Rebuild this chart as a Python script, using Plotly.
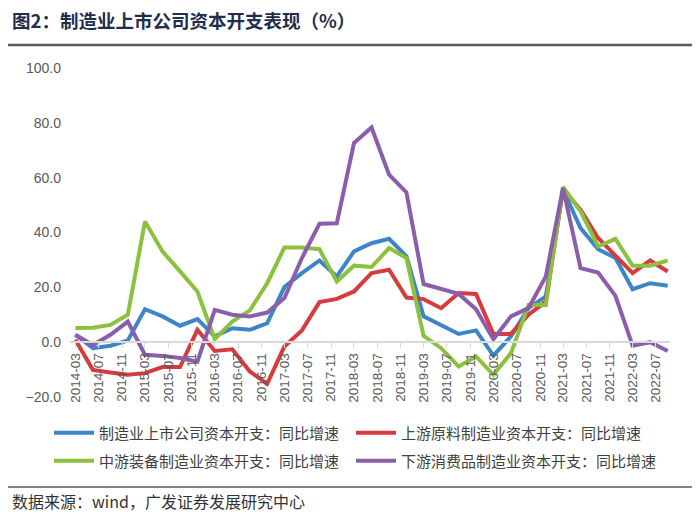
import pandas as pd
import plotly.graph_objects as go

# Quarterly observation dates (2014-03 ... 2022-09)
quarters = [d.strftime("%Y-%m-%d") for d in pd.date_range("2014-03-01", periods=35, freq="3MS")]

tick_labels = ["2014-03", "2014-07", "2014-11", "2015-03", "2015-07", "2015-11",
               "2016-03", "2016-07", "2016-11", "2017-03", "2017-07", "2017-11",
               "2018-03", "2018-07", "2018-11", "2019-03", "2019-07", "2019-11",
               "2020-03", "2020-07", "2020-11", "2021-03", "2021-07", "2021-11",
               "2022-03", "2022-07"]

total_capex = [2.7, -2.2, -1.3, 0.6, 12.0, 9.4, 6.0, 8.4, 2.1, 5.1, 4.5, 6.9,
               20.1, 25.2, 29.8, 24.0, 33.1, 36.1, 37.7, 31.3, 9.4, 6.3, 3.0, 4.3,
               -4.9, 2.1, 12.4, 16.7, 55.6, 41.6, 33.9, 30.7, 19.3, 21.5, 20.6]
upstream = [0.9, -10.1, -11.1, -11.9, -11.3, -9.1, -9.1, 4.5, -3.2, -2.6, -10.7, -15.2,
            -1.6, 4.3, 14.6, 15.8, 18.5, 25.2, 26.4, 16.3, 15.7, 12.4, 17.9, 17.6,
            3.0, 3.0, 10.0, 14.8, 55.6, 48.3, 38.0, 31.3, 25.2, 29.8, 25.8]
midstream = [5.2, 5.3, 6.3, 10.0, 44.0, 33.1, 25.8, 18.5, 1.1, 7.5, 11.6, 21.5,
             34.5, 34.5, 33.9, 22.1, 27.9, 27.4, 34.3, 30.7, 2.3, -2.2, -8.9, -5.2,
             -11.9, -4.0, 13.6, 13.6, 56.6, 47.7, 34.9, 37.7, 27.9, 27.9, 29.8]
downstream = [2.7, -1.0, 2.7, 7.5, -4.6, -5.0, -5.8, -7.1, 11.8, 10.0, 9.4, 10.8,
              16.1, 30.7, 43.2, 43.4, 72.6, 78.3, 61.1, 54.6, 21.2, 19.3, 17.6, 12.0,
              1.1, 9.4, 12.4, 24.0, 56.2, 27.0, 25.4, 16.9, -1.3, 0.0, -3.2]

series_names = ["制造业上市公司资本开支：同比增速", "上游原料制造业资本开支：同比增速",
                "中游装备制造业资本开支：同比增速", "下游消费品制造业资本开支：同比增速"]
series_values = [total_capex, upstream, midstream, downstream]
colors = ["#3D85C9", "#D63B3D", "#8CC03F", "#8A5EAD"]
legend_ids = ["legend", "legend2", "legend3", "legend4"]

# page body has an 8px margin; the figure is sized so it fits the 700x517 window
OFF = 8
W, H = 700 - OFF, 517 - OFF
ML, MR, MT, MB = 70 - OFF, 30, 68 - OFF, 120
PW, PH = W - ML - MR, H - MT - MB


def px_x(x_ref):
    return (x_ref - OFF - ML) / PW


def px_y(y_ref):
    return (H - MB - (y_ref - OFF)) / PH


fig = go.Figure()
for name, vals, col, lg in zip(series_names, series_values, colors, legend_ids):
    fig.add_trace(go.Scatter(x=quarters, y=vals, mode="lines", name=name,
                             line=dict(color=col, width=4), legend=lg))

tickvals = [lab + "-01" for lab in tick_labels]
cjk = "Noto Sans CJK SC"

legend_pos = {"legend": (49, 433), "legend2": (351, 433),
              "legend3": (49, 461), "legend4": (351, 461)}
legend_layout = {}
for lid, (lx, ly) in legend_pos.items():
    legend_layout[lid] = dict(orientation="h", x=px_x(lx), xanchor="left",
                              y=px_y(ly), yanchor="middle", bgcolor="rgba(0,0,0,0)",
                              font=dict(family=cjk, size=15, color="#404040"),
                              itemwidth=40)

fig.update_layout(
    width=W, height=H,
    margin=dict(l=ML, r=MR, t=MT, b=MB, autoexpand=False),
    paper_bgcolor="white", plot_bgcolor="white",
    font=dict(family="Liberation Sans, Arial", color="#595959"),
    xaxis=dict(type="date", range=["2014-02-01", "2022-09-13"],
               tickvals=tickvals, ticktext=tick_labels, tickangle=-90,
               anchor="free", position=20 / 120,
               showline=True, linecolor="#D9D9D9", linewidth=1.5,
               ticks="outside", ticklen=5, tickcolor="#D9D9D9", tickwidth=1,
               showgrid=False, zeroline=False, automargin=False,
               tickfont=dict(size=13.5, color="#595959")),
    yaxis=dict(range=[-20, 100], tickvals=[-20, 0, 20, 40, 60, 80, 100],
               tickformat=".1f", showgrid=False, zeroline=False, showline=False,
               ticks="", automargin=False, ticklabelstandoff=8,
               tickfont=dict(size=14, color="#595959")),
    showlegend=True,
    **legend_layout,
)

fig.add_annotation(text="<b>图2：制造业上市公司资本开支表现（%）</b>", xref="paper", yref="paper",
                   x=px_x(10), y=px_y(20), xanchor="left", yanchor="middle",
                   showarrow=False, font=dict(family=cjk, size=18.5, color="#1F2D4E"))
fig.add_shape(type="line", xref="paper", yref="paper",
              x0=px_x(0), x1=px_x(700), y0=px_y(45), y1=px_y(45),
              line=dict(color="#5A5A5A", width=2.5))
fig.add_shape(type="line", xref="paper", yref="paper",
              x0=px_x(0), x1=px_x(700), y0=px_y(487), y1=px_y(487),
              line=dict(color="#5A5A5A", width=1.5))
fig.add_annotation(text="数据来源：wind，广发证券发展研究中心", xref="paper", yref="paper",
                   x=px_x(10), y=px_y(501), xanchor="left", yanchor="middle",
                   showarrow=False, font=dict(family=cjk, size=16, color="#333333"))

fig.write_html("out.html")
